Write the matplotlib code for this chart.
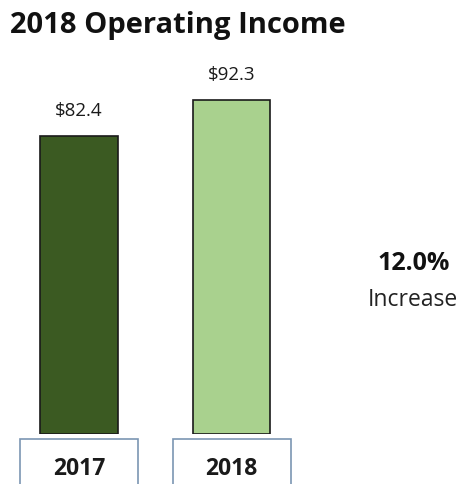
import matplotlib.pyplot as plt
from matplotlib.patches import Rectangle
import matplotlib.transforms as mtransforms

# Data
years = ["2017", "2018"]
income = [82.4, 92.3]
value_labels = ["$82.4", "$92.3"]
bar_colors = ["#3b5a22", "#a9d18e"]
change_pct = "12.0%"
change_word = "Increase"

plt.rcParams["font.family"] = ["Open Sans", "DejaVu Sans"]

W, H = 461, 485
fig = plt.figure(figsize=(W / 100, H / 100), dpi=100)

# axes spans full width, baseline at y=435 px from top
base_px = 435
px_per_unit = 3.617
ax = fig.add_axes([0, (H - base_px) / H, 1, base_px / H])
spacing = 152.5
ax.set_xlim(-79 / spacing, (W - 79) / spacing)
ax.set_ylim(0, base_px / px_per_unit)
ax.axis("off")

x = list(range(len(years)))
ax.bar(x, income, width=0.51, color=bar_colors, edgecolor="#1a1a1a", linewidth=1.2)

for xi, v, lab in zip(x, income, value_labels):
    ax.text(xi, v + 21 / px_per_unit, lab, ha="center", va="baseline",
            fontsize=13.5, color="#1a1a1a")

# category boxes below the bars
trans = mtransforms.blended_transform_factory(ax.transData, fig.transFigure)
box_w = 118 / spacing
for xi, yr in zip(x, years):
    rect = Rectangle((xi - box_w / 2, -0.05), box_w, (H - 440) / H + 0.05,
                     transform=trans, fill=False, edgecolor="#7b96b3",
                     linewidth=1.2, clip_on=False)
    fig.add_artist(rect)
    ax.text(xi, (H - 475) / H, yr, transform=trans, ha="center", va="baseline",
            fontsize=16.5, fontweight="bold", color="#1a1a1a")

fig.text(10 / W, 1 - 33 / H, "2018 Operating Income", ha="left", va="baseline",
         fontsize=21, fontweight="bold", color="#111111")
fig.text(414 / W, 1 - 270 / H, change_pct, ha="center", va="baseline",
         fontsize=18, fontweight="bold", color="#111111")
fig.text(413 / W, 1 - 306 / H, change_word, ha="center", va="baseline",
         fontsize=16.5, color="#222222")

fig.savefig("out.png", dpi=100)
